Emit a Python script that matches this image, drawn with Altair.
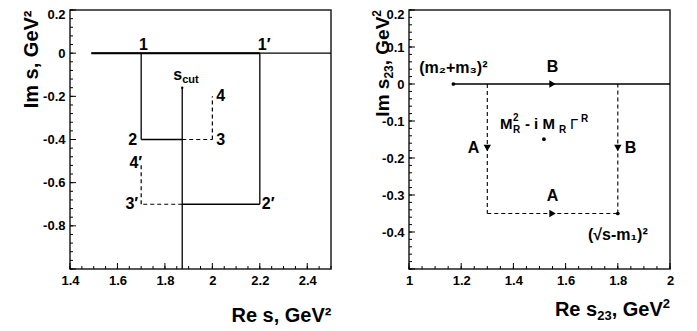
import altair as alt
import pandas as pd

FONT = "Liberation Sans"
W, H = 261, 259

# ---------------- left panel data ----------------
L_XDOM = [1.4, 2.5]
L_YDOM = [-1.0, 0.2]
L_XLAB = [1.4, 1.6, 1.8, 2.0, 2.2, 2.4]
L_YLAB = [0.2, 0.0, -0.2, -0.4, -0.6, -0.8]
L_YMAJ = [0.2, 0.0, -0.2, -0.4, -0.6, -0.8, -1.0]

# solid contour segments (x, y) -> (x2, y2)
L_SOL_X = [1.49, 1.70, 1.70, 2.20, 2.20, 1.873]
L_SOL_Y = [0.00, 0.00, -0.40, 0.00, -0.70, -0.16]
L_SOL_X2 = [2.50, 1.70, 1.873, 2.20, 1.873, 1.873]
L_SOL_Y2 = [0.00, -0.40, -0.40, -0.70, -0.70, -1.00]
# thick part of the real axis
L_THK_X, L_THK_Y, L_THK_X2, L_THK_Y2 = [1.49], [0.0], [2.20], [0.0]
# dashed segments
L_DSH_X = [1.873, 2.00, 1.873, 1.70]
L_DSH_Y = [-0.40, -0.40, -0.70, -0.70]
L_DSH_X2 = [2.00, 2.00, 1.70, 1.70]
L_DSH_Y2 = [-0.40, -0.20, -0.70, -0.51]

# ---------------- right panel data ----------------
R_XDOM = [1.0, 2.0]
R_YDOM = [-0.5, 0.2]
R_XLAB = [1.0, 1.2, 1.4, 1.6, 1.8, 2.0]
R_YLAB = [0.2, 0.1, 0.0, -0.1, -0.2, -0.3, -0.4]
R_YMAJ = [0.2, 0.1, 0.0, -0.1, -0.2, -0.3, -0.4, -0.5]

R_SOL_X, R_SOL_Y, R_SOL_X2, R_SOL_Y2 = [1.17], [0.0], [2.0], [0.0]
R_DSH_X = [1.30, 1.30, 1.80]
R_DSH_Y = [0.00, -0.35, -0.35]
R_DSH_X2 = [1.30, 1.80, 1.80]
R_DSH_Y2 = [-0.35, -0.35, 0.00]
R_ARR_RIGHT_X, R_ARR_RIGHT_Y = [1.55, 1.55], [0.0, -0.35]
R_ARR_DOWN_X, R_ARR_DOWN_Y = [1.30, 1.80], [-0.173, -0.173]
R_DOT_X, R_DOT_Y = [1.17, 1.80, 1.517], [0.0, -0.35, -0.149]

# right-panel axis titles, split into (text, size, baseline shift) pieces for sub/superscripts
R_YTITLE = [("2", 12, -8), (", GeV", 19, 0), ("23", 12, 4), ("Im s", 19, 0)]   # top -> bottom
R_XTITLE = [("2", 13, -8), (", GeV", 20, 0), ("23", 13, 4), ("Re s", 20, 0)]   # right -> left

CHARW = {"I": .278, "m": .889, " ": .278, "s": .556, ",": .278, "G": .778, "e": .556,
         "V": .667, "R": .722, "2": .556, "3": .556}


def twidth(t, size):
    return sum(CHARW[c] for c in t) * size


def minor(lo, hi, step):
    n = int(round((hi - lo) / step))
    return [round(lo + i * step, 4) for i in range(n + 1)]


AX = dict(labelExpr="'' + datum.value", labelFlush=False, labelOverlap=False, labelPadding=5,
          grid=False, domain=False, ticks=False,
          labelFont=FONT, labelFontSize=13, labelFontWeight="bold", labelColor="black",
          titleFont=FONT, titleFontSize=20, titleFontWeight="bold", titleColor="black",
          titleAlign="right", titleBaseline="alphabetic")


def xenc(dom, vals, title, tY, field="x"):
    kw = dict(AX)
    if title is not None:
        kw.update(title=title, titleX=W, titleY=tY, titleAngle=0)
    else:
        kw.update(title=None)
    return alt.X(field, type="quantitative",
                 scale=alt.Scale(domain=dom, nice=False, zero=False),
                 axis=alt.Axis(values=vals, **kw))


def yenc(dom, vals, title, tX, tY, field="y"):
    kw = dict(AX)
    if title is not None:
        kw.update(title=title, titleX=tX, titleY=tY, titleAngle=-90)
    else:
        kw.update(title=None)
    return alt.Y(field, type="quantitative",
                 scale=alt.Scale(domain=dom, nice=False, zero=False),
                 axis=alt.Axis(values=vals,
                               labelOffset={"condition": {"test": f"datum.value == {dom[1]}", "value": 4},
                                            "value": 0},
                               **kw))


def panel(xd, yd, xv, yv, xt, yt, txY, tyX, tyY, layers_fn, xmaj, xmin, ymaj, ymin):
    X = lambda f="x": xenc(xd, xv, xt, txY, f)
    Y = lambda f="y": yenc(yd, yv, yt, tyX, tyY, f)
    layers = layers_fn(X, Y)
    # inward ticks
    layers.append(alt.Chart(pd.DataFrame({"y": ymaj})).mark_rule(color="black", strokeWidth=1)
                  .encode(y=Y(), x=alt.value(0), x2=alt.value(6)))
    layers.append(alt.Chart(pd.DataFrame({"y": ymin})).mark_rule(color="black", strokeWidth=1)
                  .encode(y=Y(), x=alt.value(0), x2=alt.value(3)))
    layers.append(alt.Chart(pd.DataFrame({"x": xmaj})).mark_rule(color="black", strokeWidth=1)
                  .encode(x=X(), y=alt.value(H), y2=alt.value(H - 6)))
    layers.append(alt.Chart(pd.DataFrame({"x": xmin})).mark_rule(color="black", strokeWidth=1)
                  .encode(x=X(), y=alt.value(H), y2=alt.value(H - 3)))
    return alt.layer(*layers).properties(width=W, height=H)


def segs(X, Y, xs, ys, x2s, y2s, **kw):
    df = pd.DataFrame({"x": xs, "y": ys, "x2": x2s, "y2": y2s})
    return alt.Chart(df).mark_rule(color="black", **kw).encode(
        x=X(), y=Y(), x2=alt.X2("x2"), y2=alt.Y2("y2"))


def label(X, Y, text, x, y, size=16, weight="bold", **kw):
    df = pd.DataFrame({"x": [x], "y": [y], "t": [text]})
    return alt.Chart(df).mark_text(font=FONT, fontSize=size, fontWeight=weight,
                                   color="black", **kw).encode(x=X(), y=Y(), text="t:N")


def title_piece(text, size, px, py, angle):
    return alt.Chart(pd.DataFrame({"t": [text]})).mark_text(
        font=FONT, fontSize=size, fontWeight="bold", color="black", align="right",
        baseline="alphabetic", angle=angle).encode(x=alt.value(px), y=alt.value(py), text="t:N")


def right_titles():
    out = []
    # y title: rotated, stacked from the top downwards
    top, base_x = 0, -20
    for t, s, shift in R_YTITLE:
        out.append(title_piece(t, s, base_x + shift, top, 270))
        top += twidth(t, s)
    # x title: right-aligned at the panel's right edge
    right, base_y = W, H + 47
    for t, s, shift in R_XTITLE:
        out.append(title_piece(t, s, right, base_y + shift, 0))
        right -= twidth(t, s)
    return out


def left_layers(X, Y):
    return [
        segs(X, Y, L_SOL_X, L_SOL_Y, L_SOL_X2, L_SOL_Y2, strokeWidth=1.3),
        segs(X, Y, L_THK_X, L_THK_Y, L_THK_X2, L_THK_Y2, strokeWidth=2),
        segs(X, Y, L_DSH_X, L_DSH_Y, L_DSH_X2, L_DSH_Y2, strokeWidth=1.2, strokeDash=[4, 3]),
        alt.Chart(pd.DataFrame({"x": [1.873], "y": [-0.16]})).mark_point(
            filled=True, color="black", size=6, opacity=1).encode(x=X(), y=Y()),
        label(X, Y, "1", 1.71, 0.0, align="center", baseline="alphabetic", dy=-3),
        label(X, Y, "1′", 2.2, 0.0, align="left", baseline="alphabetic", dx=-2, dy=-3),
        label(X, Y, "2", 1.7, -0.4, align="right", baseline="middle", dx=-4),
        label(X, Y, "3", 2.0, -0.4, align="left", baseline="middle", dx=4),
        label(X, Y, "4", 2.0, -0.2, align="left", baseline="middle", dx=4),
        label(X, Y, "4′", 1.7, -0.51, align="right", baseline="middle", dx=1),
        label(X, Y, "3′", 1.7, -0.7, align="right", baseline="middle", dx=-3),
        label(X, Y, "2′", 2.2, -0.7, align="left", baseline="middle", dx=2),
        label(X, Y, "s", 1.873, -0.16, align="right", baseline="alphabetic", dy=-8),
        label(X, Y, "cut", 1.873, -0.16, size=11, align="left", baseline="alphabetic", dy=-5),
    ]


def right_layers(X, Y):
    return [
        segs(X, Y, R_SOL_X, R_SOL_Y, R_SOL_X2, R_SOL_Y2, strokeWidth=1.3),
        segs(X, Y, R_DSH_X, R_DSH_Y, R_DSH_X2, R_DSH_Y2, strokeWidth=1.1, strokeDash=[4, 3]),
        alt.Chart(pd.DataFrame({"x": R_ARR_RIGHT_X, "y": R_ARR_RIGHT_Y})).mark_point(
            shape="triangle-right", filled=True, color="black", size=55, opacity=1).encode(x=X(), y=Y()),
        alt.Chart(pd.DataFrame({"x": R_ARR_DOWN_X, "y": R_ARR_DOWN_Y})).mark_point(
            shape="triangle-down", filled=True, color="black", size=55, opacity=1).encode(x=X(), y=Y()),
        alt.Chart(pd.DataFrame({"x": R_DOT_X, "y": R_DOT_Y})).mark_point(
            shape="circle", filled=True, color="black", size=14, opacity=1).encode(x=X(), y=Y()),
        label(X, Y, "B", 1.55, 0.0, align="center", baseline="alphabetic", dy=-12),
        label(X, Y, "A", 1.55, -0.35, align="center", baseline="alphabetic", dy=-13),
        label(X, Y, "A", 1.30, -0.173, align="right", baseline="middle", dx=-8),
        label(X, Y, "B", 1.80, -0.173, align="left", baseline="middle", dx=7),
        label(X, Y, "(m₂+m₃)²", 1.17, 0.0, align="center", baseline="alphabetic", dy=-11),
        label(X, Y, "(√s-m₁)²", 1.80, -0.35, align="center", baseline="alphabetic", dy=26),
        # M_R^2 - i M_R Gamma^R, pieces anchored on the resonance dot
        label(X, Y, "M", 1.517, -0.149, size=15, align="left", baseline="alphabetic", dx=-44, dy=-10),
        label(X, Y, "2", 1.517, -0.149, size=10, align="left", baseline="alphabetic", dx=-31, dy=-18),
        label(X, Y, "R", 1.517, -0.149, size=10, align="left", baseline="alphabetic", dx=-31, dy=-6),
        label(X, Y, "- i M", 1.517, -0.149, size=15, align="left", baseline="alphabetic", dx=-19, dy=-10),
        label(X, Y, "R", 1.517, -0.149, size=10, align="left", baseline="alphabetic", dx=15, dy=-6),
        label(X, Y, "Γ", 1.517, -0.149, size=15, weight="normal", align="left", baseline="alphabetic", dx=26, dy=-10),
        label(X, Y, "R", 1.517, -0.149, size=10, align="left", baseline="alphabetic", dx=37, dy=-17),
    ] + right_titles()


left = panel(L_XDOM, L_YDOM, L_XLAB, L_YLAB, "Re s, GeV²", "Im s, GeV²", 52, -33, 0,
             left_layers, L_XLAB, minor(1.4, 2.5, 0.05), L_YMAJ, minor(-1.0, 0.2, 0.04))
right = panel(R_XDOM, R_YDOM, R_XLAB, R_YLAB, None, None, 0, 0, 0,
              right_layers, R_XLAB, minor(1.0, 2.0, 0.05), R_YMAJ, minor(-0.5, 0.2, 0.02))

chart = alt.hconcat(left, right, spacing=37).properties(
    padding={"left": 12, "top": -1, "right": 0, "bottom": 0},
    background="white",
).configure_view(stroke="#222222", strokeWidth=1.5)

chart.save("out.html", embed_options={"renderer": "svg", "actions": False})
